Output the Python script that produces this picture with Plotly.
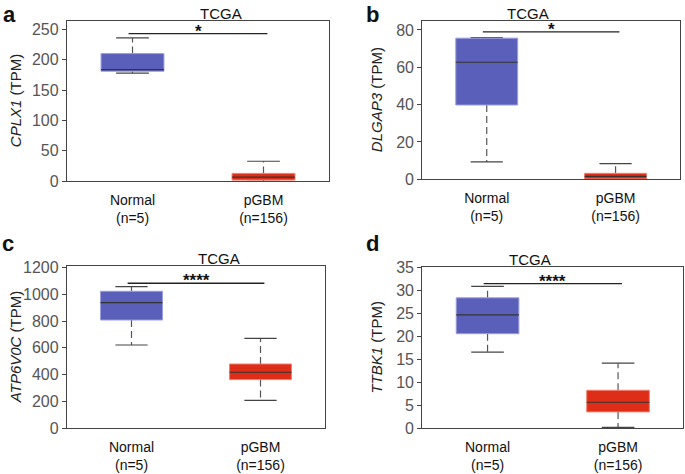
import plotly.graph_objects as go

# ---- data ----
genes = ["CPLX1", "DLGAP3", "ATP6V0C", "TTBK1"]
panel_letters = ["a", "b", "c", "d"]
groups = ["Normal<br>(n=5)", "pGBM<br>(n=156)"]
# box statistics: lower whisker, q1, median, q3, upper whisker
normal_lo = [178, 9.3, 621, 16.5]
normal_q1 = [181, 39.8, 808, 20.5]
normal_med = [183.5, 62.7, 938, 24.6]
normal_q3 = [210, 75.6, 1023, 28.3]
normal_hi = [236, 75.9, 1058, 30.8]
pgbm_lo = [0, 0, 207, 0.15]
pgbm_q1 = [2, 0.2, 362, 3.5]
pgbm_med = [7, 1.6, 417, 5.6]
pgbm_q3 = [13, 3.2, 479, 8.2]
pgbm_hi = [33, 8.4, 671, 14.1]
sig_y = [243, 79, 1083, 31.4]
sig_label = ["*", "*", "****", "****"]
y_max = [263.6, 84.8, 1210, 35]
y_dtick = [50, 20, 200, 5]

# ---- style ----
FONT = "Liberation Sans, Arial, sans-serif"
fills = ["#5A5FB9", "#DF2E18"]
edges = ["#9A9DDE", "#F08070"]
HALF_W = 0.24
CAP_W = 0.125

domains = [
    ([67/685, 329/685], [1-181.3/474, 1-21/474]),
    ([422.3/685, 680/685], [1-179.3/474, 1-21/474]),
    ([67/685, 325/685], [1-428/474, 1-266.3/474]),
    ([422.3/685, 683.3/685], [1-428/474, 1-267/474]),
]
letter_pos = [(1/685, 1-0/474), (364/685, 1-0/474), (0/685, 1-229/474), (364/685, 1-229/474)]
ytitle_x = [15/685, 376/685, 15/685, 376/685]

fig = go.Figure()
layout = dict(width=685, height=474, margin=dict(l=0, r=0, t=0, b=0),
              paper_bgcolor="white", plot_bgcolor="white", showlegend=False,
              font=dict(family=FONT, size=15, color="#222"))
annotations = []

for i in range(4):
    xa = "x" if i == 0 else f"x{i+1}"
    ya = "y" if i == 0 else f"y{i+1}"
    stats = [
        (normal_lo[i], normal_q1[i], normal_med[i], normal_q3[i], normal_hi[i]),
        (pgbm_lo[i], pgbm_q1[i], pgbm_med[i], pgbm_q3[i], pgbm_hi[i]),
    ]
    for g, (lo, q1, med, q3, hi) in enumerate(stats):
        xc = g + 1
        # whiskers (dashed)
        fig.add_trace(go.Scatter(x=[xc, xc, None, xc, xc], y=[q3, hi, None, q1, lo],
                                 mode="lines", line=dict(color="#555", width=1.2, dash="7px,4px"),
                                 xaxis=xa, yaxis=ya, hoverinfo="skip"))
        # caps
        fig.add_trace(go.Scatter(x=[xc-CAP_W, xc+CAP_W, None, xc-CAP_W, xc+CAP_W],
                                 y=[hi, hi, None, lo, lo], mode="lines",
                                 line=dict(color="#444", width=1.2),
                                 xaxis=xa, yaxis=ya, hoverinfo="skip"))
        # box
        fig.add_trace(go.Scatter(x=[xc-HALF_W, xc+HALF_W, xc+HALF_W, xc-HALF_W, xc-HALF_W],
                                 y=[q1, q1, q3, q3, q1], mode="lines", fill="toself",
                                 fillcolor=fills[g], line=dict(color=edges[g], width=1),
                                 xaxis=xa, yaxis=ya, hoverinfo="skip"))
        # median
        fig.add_trace(go.Scatter(x=[xc-HALF_W, xc+HALF_W], y=[med, med], mode="lines",
                                 line=dict(color="#333", width=1.2),
                                 xaxis=xa, yaxis=ya, hoverinfo="skip"))
    # significance line
    fig.add_trace(go.Scatter(x=[0.97, 2.03], y=[sig_y[i], sig_y[i]], mode="lines",
                             line=dict(color="#222", width=1.3),
                             xaxis=xa, yaxis=ya, hoverinfo="skip"))
    annotations.append(dict(x=1.5, y=sig_y[i], xref=xa, yref=ya, text=f"<b>{sig_label[i]}</b>",
                            showarrow=False, yanchor="bottom", yshift=-9,
                            font=dict(size=17, color="#111")))
    xd, yd = domains[i]
    # title
    annotations.append(dict(x=(xd[0]+xd[1])/2, y=yd[1], xref="paper", yref="paper",
                            text="TCGA", showarrow=False, yanchor="bottom", yshift=-3,
                            font=dict(size=15, color="#111")))
    # y-axis title
    annotations.append(dict(x=ytitle_x[i], y=(yd[0]+yd[1])/2, xref="paper", yref="paper",
                            text=f"<i>{genes[i]}</i> (TPM)", showarrow=False, textangle=-90,
                            xanchor="center", yanchor="middle",
                            font=dict(size=15, color="#222")))
    # panel letter
    lx, ly = letter_pos[i]
    annotations.append(dict(x=lx, y=ly, xref="paper", yref="paper", text=f"<b>{panel_letters[i]}</b>",
                            showarrow=False, xanchor="left", yanchor="top",
                            font=dict(size=22, color="#111")))

    key = "" if i == 0 else str(i+1)
    layout["xaxis" + key] = dict(domain=xd, range=[0.5, 2.5], tickvals=[1, 2], ticktext=groups,
                                 showline=True, mirror=True, linecolor="#444", linewidth=1.3,
                                 ticks="", showgrid=False, zeroline=False, anchor=ya,
                                 automargin=False, ticklabelstandoff=6,
                                 tickfont=dict(size=14, color="#111"), fixedrange=True)
    layout["yaxis" + key] = dict(domain=yd, range=[0, y_max[i]], dtick=y_dtick[i],
                                 showline=True, mirror=True, linecolor="#444", linewidth=1.3,
                                 ticks="outside", ticklen=4, tickcolor="#444", showgrid=False,
                                 zeroline=False, anchor=xa, automargin=False,
                                 tickfont=dict(size=16, color="#555"),
                                 fixedrange=True)

layout["annotations"] = annotations
fig.update_layout(**layout)
fig.write_html("out.html", config={"displayModeBar": False},
               post_script="document.body.style.margin='0';document.body.style.overflow='hidden';")
